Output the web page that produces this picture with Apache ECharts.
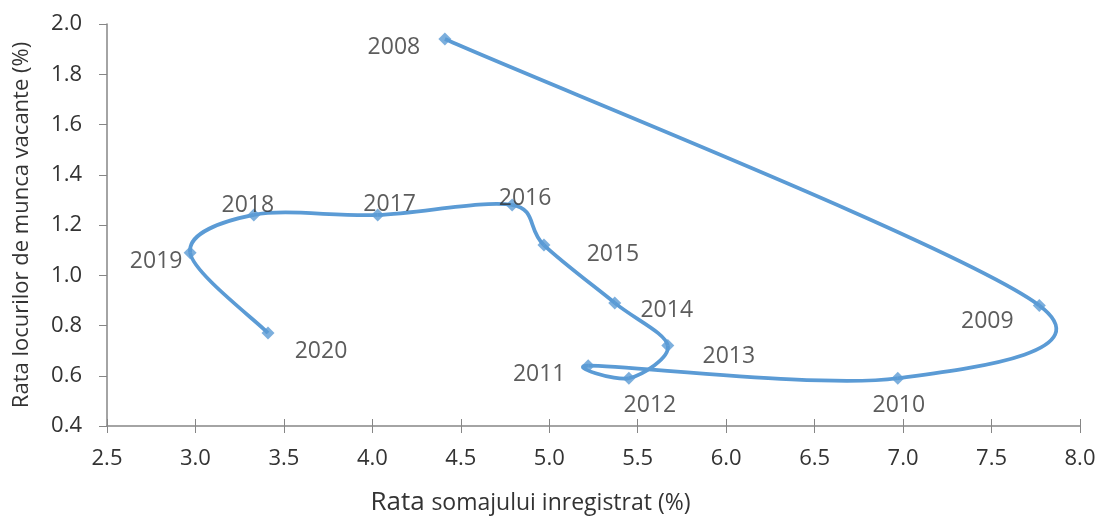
<!DOCTYPE html>
<html>
<head>
<meta charset="utf-8">
<script src="https://cdn.jsdelivr.net/npm/echarts@6/dist/echarts.min.js"></script>
<style>
  html, body { margin: 0; padding: 0; background: #fff; }
  #chart { width: 1099px; height: 521px; }
</style>
</head>
<body>
<div id="chart"></div>
<script>
// years and the two rates
const years = ['2008', '2009', '2010', '2011', '2012', '2013', '2014', '2015', '2016', '2017', '2018', '2019', '2020']
const unemployment = [4.41, 7.77, 6.97, 5.22, 5.45, 5.67, 5.37, 4.97, 4.79, 4.03, 3.33, 2.97, 3.41]
const vacancies = [1.94, 0.88, 0.59, 0.64, 0.59, 0.72, 0.89, 1.12, 1.28, 1.24, 1.24, 1.09, 0.77]

// where each year label sits relative to its point
const labelOffsets = {
  2008: [-51, 8], 2009: [-52, 16], 2010: [1, 27], 2011: [-49, 9],
  2012: [21, 27], 2013: [61, 11], 2014: [52, 8], 2015: [69, 9],
  2016: [13, -6], 2017: [12, -10], 2018: [-6, -9], 2019: [-34, 9],
  2020: [53, 18]
}

const font = '"Open Sans", "Noto Sans", sans-serif'
const axisColor = '#868686'
const textColor = '#333333'
const blue = '#5B9BD5'

const chart = echarts.init(document.getElementById('chart'))

const pairs = years.map((y, i) => [unemployment[i], vacancies[i]])
const points = years.map((y, i) => ({
  value: pairs[i],
  label: { offset: labelOffsets[y] }
}))

const dist = (a, b) => Math.hypot(a[0] - b[0], a[1] - b[1])

// spreadsheet-style smoothed segment from point i to point i+1
// (arm = 1/6 of the neighbour chord, capped at half the segment)
function renderSegment(params, api) {
  const i = params.dataIndex
  if (i >= pairs.length - 1) return null
  const p = (k) => api.coord(pairs[Math.max(0, Math.min(pairs.length - 1, k))])
  const p0 = p(i - 1), p1 = p(i), p2 = p(i + 1), p3 = p(i + 2)
  const d12 = dist(p1, p2)
  const d02 = dist(p0, p2)
  const d13 = dist(p1, p3)
  let f1 = 1 / 6, f2 = 1 / 6
  if (d02 / 6 > d12 / 2) f1 = d12 / (2 * d02)
  if (d13 / 6 > d12 / 2) f2 = d12 / (2 * d13)
  return {
    type: 'bezierCurve',
    shape: {
      x1: p1[0], y1: p1[1],
      x2: p2[0], y2: p2[1],
      cpx1: p1[0] + (p2[0] - p0[0]) * f1,
      cpy1: p1[1] + (p2[1] - p0[1]) * f1,
      cpx2: p2[0] - (p3[0] - p1[0]) * f2,
      cpy2: p2[1] - (p3[1] - p1[1]) * f2
    },
    style: { stroke: blue, lineWidth: 3.75, fill: null }
  }
}

chart.setOption({
  animation: false,
  grid: { left: 107, right: 19, top: 24, bottom: 93 },
  xAxis: [
    {
      type: 'value',
      min: 2.5,
      max: 8.0,
      interval: 0.5,
      name: '{a|Rata} {b|somajului inregistrat (%)}',
      nameLocation: 'middle',
      nameGap: 64,
      nameTextStyle: {
        fontSize: 24,
        padding: [0, 126, 0, 0],
        rich: {
          a: { fontSize: 26, fontFamily: font, color: textColor },
          b: { fontSize: 23, fontFamily: font, color: textColor }
        }
      },
      axisLine: { show: true, lineStyle: { color: axisColor, width: 1.5 } },
      axisTick: { show: true, length: 7, lineStyle: { color: axisColor } },
      splitLine: { show: false },
      axisLabel: {
        margin: 22,
        fontSize: 22,
        fontFamily: font,
        color: textColor,
        formatter: (v) => v.toFixed(1)
      }
    },
    {
      // second copy only to draw the tick halves inside the plot
      type: 'value',
      position: 'bottom',
      min: 2.5,
      max: 8.0,
      interval: 0.5,
      axisLine: { show: false },
      axisTick: { show: true, inside: true, length: 7, lineStyle: { color: axisColor } },
      axisLabel: { show: false },
      splitLine: { show: false }
    }
  ],
  yAxis: {
    type: 'value',
    min: 0.4,
    max: 2.0,
    interval: 0.2,
    name: 'Rata locurilor de munca vacante (%)',
    nameLocation: 'middle',
    nameGap: 74,
    nameTextStyle: { fontSize: 22, fontFamily: font, color: textColor },
    axisLine: { show: true, lineStyle: { color: axisColor, width: 1.5 } },
    axisTick: { show: true, length: 8, lineStyle: { color: axisColor } },
    splitLine: { show: false },
    axisLabel: {
      margin: 25,
      fontSize: 22,
      fontFamily: font,
      color: textColor,
      formatter: (v) => v.toFixed(1)
    }
  },
  series: [
    {
      type: 'custom',
      data: pairs,
      encode: { x: 0, y: 1 },
      renderItem: renderSegment,
      z: 2
    },
    {
      type: 'scatter',
      data: points,
      symbol: 'diamond',
      symbolSize: 13,
      itemStyle: { color: blue },
      z: 3,
      label: {
        show: true,
        position: 'inside',
        fontSize: 23,
        fontFamily: font,
        color: textColor,
        formatter: (p) => years[p.dataIndex]
      }
    }
  ]
})
</script>
</body>
</html>
